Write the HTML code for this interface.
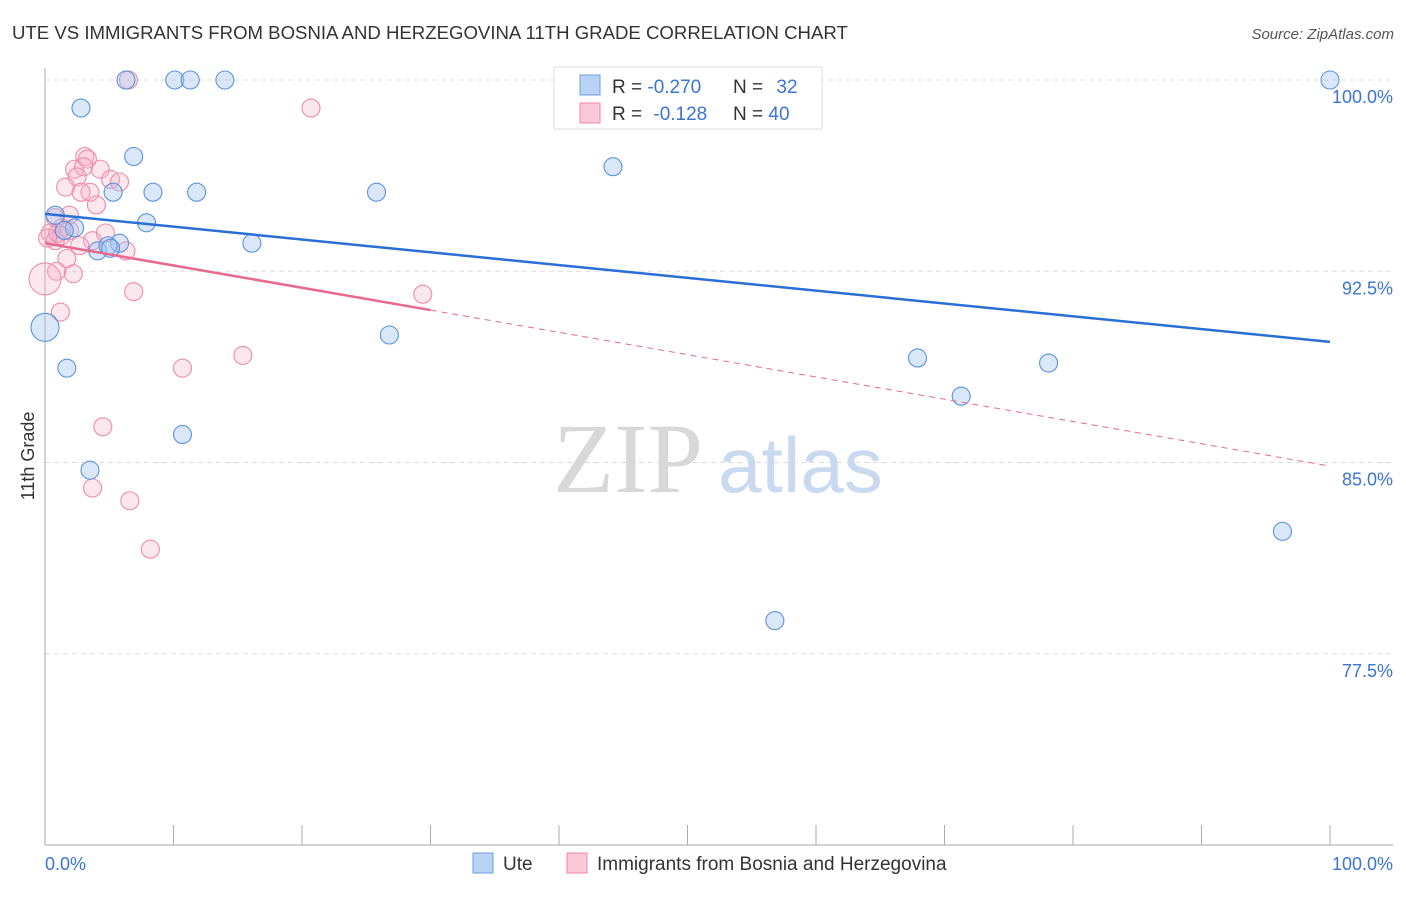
<!DOCTYPE html>
<html><head><meta charset="utf-8"><style>
body{margin:0;background:#fff;font-family:"Liberation Sans",sans-serif;}
svg text{font-family:"Liberation Sans",sans-serif;}
</style></head><body>
<svg width="1406" height="892" xmlns="http://www.w3.org/2000/svg" id="chart">
<text x="12" y="39" font-size="18.6" fill="#333">UTE VS IMMIGRANTS FROM BOSNIA AND HERZEGOVINA 11TH GRADE CORRELATION CHART</text>
<text x="1394" y="39" font-size="15" fill="#555" text-anchor="end" font-style="italic">Source: ZipAtlas.com</text>
<text x="0" y="0" transform="translate(34,456) rotate(-90)" font-size="18" fill="#333" text-anchor="middle">11th Grade</text>
<g id="grid"></g>
<text x="553" y="492" font-size="100" fill="#d8d8d8" font-family="Liberation Serif" style="font-family:'Liberation Serif',serif">ZIP</text>
<text x="718" y="492" font-size="78" fill="#c9d9f0">atlas</text>
<g id="marks"></g>
<g>
<rect x="554" y="67" width="268" height="62" fill="#fff" stroke="#ddd"/>
<rect x="580" y="75" width="20" height="20" fill="#b9d3f5" stroke="#6a9fe0"/>
<rect x="580" y="103" width="20" height="20" fill="#fbc8d8" stroke="#ee8aac"/>
<text x="612" y="93" font-size="19" fill="#333">R = <tspan fill="#3b74d1">-0.270</tspan></text>
<text x="733" y="93" font-size="19" fill="#333">N = <tspan fill="#3b74d1" dx="8">32</tspan></text>
<text x="612" y="120" font-size="19" fill="#333">R = <tspan fill="#3b74d1" dx="6">-0.128</tspan></text>
<text x="733" y="120" font-size="19" fill="#333">N = <tspan fill="#3b74d1">40</tspan></text>
</g>
<rect x="473" y="853" width="20" height="20" fill="#b9d3f5" stroke="#6a9fe0"/>
<text x="503" y="870" font-size="19" fill="#333">Ute</text>
<rect x="567" y="853" width="20" height="20" fill="#fbc8d8" stroke="#ee8aac"/>
<text x="597" y="870" font-size="19" fill="#333">Immigrants from Bosnia and Herzegovina</text>
<text x="45" y="870" font-size="18" fill="#3b74d1">0.0%</text>
<text x="1393" y="870" font-size="18" fill="#3b74d1" text-anchor="end">100.0%</text>
</svg>
<script>
const uteX=[6.3,10.1,11.3,14.0,54.6,100,2.8,6.9,44.2,8.4,11.8,25.8,5.3,0.8,7.9,2.3,16.1,4.1,5.8,4.9,26.8,0,1.7,67.9,78.1,71.3,10.7,3.5,96.3,56.8,1.5,5.1];
const uteY=[100,100,100,100,100,100,98.9,97.0,96.6,95.6,95.6,95.6,95.6,94.7,94.4,94.2,93.6,93.3,93.6,93.5,90.0,90.3,88.7,89.1,88.9,87.6,86.1,84.7,82.3,78.8,94.1,93.4];
const uteBig=[21];
const bosX=[6.5,20.7,3.1,3.3,2.3,4.3,3.0,5.1,5.8,2.5,1.6,3.5,2.8,4.0,1.9,0.8,1.3,0.4,0.8,1.3,3.7,4.7,6.3,1.7,0.9,0,2.2,6.9,29.4,1.2,15.4,10.7,4.5,3.7,6.6,8.2,0.2,1.9,1.0,2.7];
const bosY=[100,98.9,97.0,96.9,96.5,96.5,96.6,96.1,96.0,96.2,95.8,95.6,95.6,95.1,94.7,94.6,94.2,94.0,93.7,93.9,93.7,94.0,93.3,93.0,92.5,92.2,92.4,91.7,91.6,90.9,89.2,88.7,86.4,84.0,83.5,81.6,93.8,94.1,94.0,93.5];
const bosBig=[25];
const uteTrend=[94.75,89.73];
const bosTrend=[93.6,84.86];
const bosSolidEnd=30;
const yTicks=[100,92.5,85,77.5];
const yTickLabels=["100.0%","92.5%","85.0%","77.5%"];
const xTicks=[0,10,20,30,40,50,60,70,80,90,100];

const NS="http://www.w3.org/2000/svg";
const X=v=>45+v*12.85, Y=v=>80+(100-v)*25.5;
function mk(tag,attrs,parent){const e=document.createElementNS(NS,tag);for(const k in attrs)e.setAttribute(k,attrs[k]);parent.appendChild(e);return e;}
const grid=document.getElementById('grid'), marks=document.getElementById('marks');
yTicks.forEach((t,i)=>{
  const l=mk('line',{x1:45,x2:1393,y1:Y(t),y2:Y(t),stroke:'#ddd','stroke-dasharray':'5,4'},grid);
  
  
  const tx=mk('text',{x:1393,y:Y(t)+23,'font-size':18,fill:'#3b74d1','text-anchor':'end'},grid);
  tx.textContent=yTickLabels[i];
  
  
});
const ax=mk('line',{x1:45,x2:45,y1:68,y2:845,stroke:'#aaa'},grid);


const bx=mk('line',{x1:45,x2:1393,y1:845,y2:845,stroke:'#aaa'},grid);


xTicks.forEach(t=>{
  const l=mk('line',{x1:X(t),x2:X(t),y1:825,y2:845,stroke:'#aaa'},grid);
  
  
});
bosX.forEach((x,i)=>{
  const c=mk('circle',{cx:X(x),cy:Y(bosY[i]),r:bosBig.includes(i)?16:9,fill:'rgba(248,175,198,0.3)',stroke:'#ee8aac','stroke-width':1.1},marks);
  
  
});
uteX.forEach((x,i)=>{
  const c=mk('circle',{cx:X(x),cy:Y(uteY[i]),r:uteBig.includes(i)?14:9,fill:'rgba(160,195,240,0.4)',stroke:'#5b93dc','stroke-width':1.1},marks);
  
  
});
const ut=mk('line',{x1:X(0),y1:Y(uteTrend[0]),x2:X(100),y2:Y(uteTrend[1]),stroke:'#2a6fd6','stroke-width':2.5},marks);


const bm=v=>bosTrend[0]+(bosTrend[1]-bosTrend[0])*v/100;
const bs=mk('line',{x1:X(0),y1:Y(bm(0)),x2:X(bosSolidEnd),y2:Y(bm(bosSolidEnd)),stroke:'#e8688f','stroke-width':2.5},marks);


const bd=mk('line',{x1:X(bosSolidEnd),y1:Y(bm(bosSolidEnd)),x2:X(100),y2:Y(bm(100)),stroke:'#e8688f','stroke-width':1,'stroke-dasharray':'6,5'},marks);


</script>
</body></html>
